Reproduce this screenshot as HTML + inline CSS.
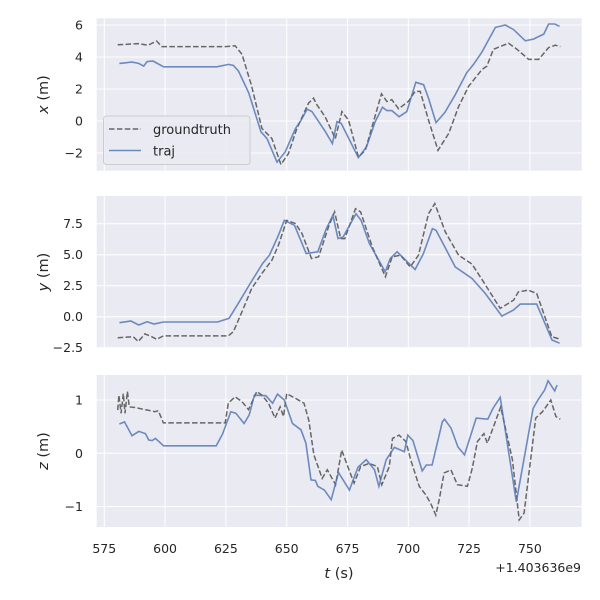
<!DOCTYPE html>
<html><head><meta charset="utf-8"><style>
body{margin:0;background:#fff;}
svg{display:block;font-family:"DejaVu Sans","Liberation Sans",sans-serif;}
</style></head><body>
<svg id="chart" width="600" height="600"></svg>
<script>
const gtT1=[580.5,589,593,596.5,598.6,624.7,628.8,631.6,635.6,639.8,643.9,647.6,650.7,654.2,659,661,662.4,665.8,670,672.7,675.4,679.5,682.3,689,691.2,693.2,696,700,702.8,704.9,708.3,712.2,716.6,720.7,724.8,730.3,732.3,735,741.2,744.7,749.5,753.6,757.7,760.5,762.5];
const gtX=[4.76,4.84,4.74,5.0,4.65,4.65,4.7,4.17,2.17,-0.46,-1.1,-2.72,-2.04,-0.46,1.12,1.43,1.01,0.27,-1.1,0.59,0.06,-2.25,-1.83,1.7,1.22,1.33,0.76,1.22,1.85,1.85,0.06,-1.83,-0.78,0.9,2.17,3.22,3.43,4.48,4.86,4.48,3.85,3.85,4.59,4.74,4.65];
const trT1=[581.2,586.4,589.1,591.2,592.6,595,599.4,621.3,626.1,628.1,630.2,634.4,639.4,641.9,646,649.4,653.6,655.6,658.4,660.4,665.9,668.8,670.7,672.4,679.5,682.8,686.4,689.4,691.2,693.2,696.2,699.4,703.1,706.3,708.3,711.4,715,719.3,724,726.8,730.3,735.8,739.9,743.3,748.1,751.5,753.6,755.7,757.7,760.2,762.2];
const trX=[3.6,3.68,3.6,3.43,3.71,3.75,3.39,3.39,3.54,3.47,3.12,1.75,-0.67,-1.1,-2.57,-1.94,-0.46,-0.04,0.74,0.59,-0.67,-1.41,-0.04,-0.15,-2.29,-1.62,-0.04,0.86,0.65,0.65,0.27,0.59,2.42,2.27,1.43,-0.1,0.53,1.64,3.01,3.54,4.32,5.85,6.0,5.71,5.01,5.12,5.28,5.43,6.06,6.06,5.92];
const gtT2=[580.5,586.9,589,591.7,594.5,596.5,599.3,626,628.1,631.6,635.6,639.8,643.9,646.6,650,653.6,656.3,660.2,663.1,667.2,669.7,672.2,673.9,678.3,680.4,685.2,690.6,693.4,696.8,700.8,704.2,708.3,710.9,715.2,720.7,726.2,730.9,737.8,743.3,745.3,749.4,752.8,759,762.5];
const gtY=[-1.69,-1.61,-2.0,-1.39,-1.61,-1.82,-1.55,-1.55,-1.21,0.4,2.28,3.49,4.56,5.76,7.77,7.51,6.7,4.69,4.83,7.24,8.45,6.3,6.3,8.71,8.45,5.63,3.22,4.83,4.96,4.02,4.96,8.31,9.12,6.84,4.96,4.24,2.82,0.67,1.34,2.01,2.14,1.88,-1.61,-1.82];
const trT2=[581.2,585.9,589.2,592.6,595.4,599.4,621.6,626.3,630.5,634.6,640.1,642.9,646.3,649,653.2,658,662.8,666.3,669,671.1,673.2,678.5,680.6,684,690.5,692.6,695.4,702.8,706.2,709.9,711.4,715,719.3,726.2,731.6,738.5,743.3,746,752.8,759.1,762.2];
const trY=[-0.48,-0.35,-0.67,-0.4,-0.59,-0.43,-0.43,-0.13,1.21,2.55,4.29,4.96,6.43,7.77,7.37,5.09,5.23,7.1,8.18,6.3,6.43,8.31,7.77,5.9,3.62,4.69,5.23,3.81,5.09,7.1,6.97,5.63,4.02,3.08,1.88,0.05,0.54,1.02,1.02,-1.88,-2.14];
const gtT3=[580.5,581,581.9,582.8,583.5,584.5,585.3,587.6,591.7,595.9,597.2,599.3,624.7,626,628.8,631.6,634.3,637.7,639.8,642.5,645.2,647.3,648.7,650,653.6,657.1,659.1,661.2,664.6,666.7,670.1,672.6,675.6,677.7,680.4,683.9,687.3,689.1,692.2,693.5,696.2,699,701,704.5,707.2,709.2,711.3,712.7,714.7,717.5,720.2,724.3,726.3,728.4,731.1,732.5,735.3,738,742.8,745.6,747.6,752.4,755.2,758.6,760.7,762.5];
const gtZ=[0.81,1.09,0.75,1.12,0.75,1.16,0.87,0.86,0.82,0.78,0.8,0.57,0.57,0.94,1.06,0.97,0.82,1.16,1.09,0.94,0.66,0.87,0.69,1.12,1.03,0.94,0.62,-0.03,-0.47,-0.31,-0.59,0.06,-0.31,-0.56,-0.25,-0.19,-0.25,-0.59,-0.25,0.28,0.34,0.22,-0.12,-0.62,-0.78,-0.94,-1.16,-0.87,-0.37,-0.31,-0.59,-0.62,-0.28,0.22,0.37,0.19,0.53,0.87,-0.12,-1.25,-1.12,0.66,0.78,1.0,0.69,0.64];
const trT3=[581.2,583.3,586.4,589.2,591.9,593.3,594.7,596,599.4,621,623.6,627,629.1,632.5,634.6,636.7,641.4,644.2,646.2,649,652.4,655.9,657.9,660,661.8,662.8,665.5,668.3,671.3,675.8,679.3,682.7,686.1,687.9,690.9,694.3,698.4,699.8,701.9,705.7,707.4,709.8,714,714.9,717.6,720.4,723.1,727.9,732.7,734.8,737.8,744.4,751.3,753.3,756.1,757.5,760.2,761.2];
const trZ=[0.55,0.59,0.33,0.41,0.37,0.25,0.24,0.28,0.14,0.14,0.36,0.78,0.75,0.56,0.72,1.09,1.08,0.94,1.11,1.0,0.56,0.44,0.19,-0.5,-0.51,-0.62,-0.69,-0.87,-0.36,-0.69,-0.26,-0.12,-0.31,-0.62,-0.12,0.11,0.03,0.34,0.24,-0.33,-0.22,-0.22,0.59,0.64,0.47,0.12,-0.03,0.66,0.64,0.84,1.05,-0.91,0.84,1.0,1.19,1.36,1.17,1.28];
const xTicks=[575,600,625,650,675,700,725,750];
const yTicks1=[-2,0,2,4,6];
const yTicks2=[-2.5,0,2.5,5,7.5];
const yTicksLbl2=["−2.5","0.0","2.5","5.0","7.5"];
const yTicks3=[-1,0,1];

const NS="http://www.w3.org/2000/svg";
const svg=document.getElementById('chart');
function mk(tag,attrs,parent){const e=document.createElementNS(NS,tag);for(const k in attrs)e.setAttribute(k,attrs[k]);(parent||svg).appendChild(e);return e;}
const L=96.7,R=581.7;
function xs(t){return 104.3+(t-575)*2.432;}
const panels=[
 {top:18.3,bot:170.7,y0:121,k:16,ticks:yTicks1,lbls:yTicks1.map(v=>v<0?"−"+(-v):""+v),name:"x",gt:[gtT1,gtX],tr:[trT1,trX]},
 {top:196,bot:348,y0:316.7,k:12.4,ticks:yTicks2,lbls:yTicksLbl2,name:"y",gt:[gtT2,gtY],tr:[trT2,trY]},
 {top:375,bot:527,y0:453.3,k:53.3,ticks:yTicks3,lbls:yTicks3.map(v=>v<0?"−"+(-v):""+v),name:"z",gt:[gtT3,gtZ],tr:[trT3,trZ]}
];
panels.forEach((p,i)=>{
 const g=mk('g',{});
 
 
 const bg=mk('rect',{x:L,y:p.top,width:R-L,height:p.bot-p.top,fill:'#EAEAF2'},g);
 
 
 const ys=v=>p.y0-v*p.k;
 xTicks.forEach(t=>{const l=mk('line',{x1:xs(t),x2:xs(t),y1:p.top,y2:p.bot,stroke:'#fff','stroke-width':1},g);
  
  });
 p.ticks.forEach((v,j)=>{const y=ys(v);
  const l=mk('line',{x1:L,x2:R,y1:y,y2:y,stroke:'#fff','stroke-width':1},g);
  
  
  const tx=mk('text',{x:83,y:y+4.5,'text-anchor':'end','font-size':12.5,fill:'#262626'},g);tx.textContent=p.lbls[j];
  
  });
 const clipId='c'+i;
 const cp=mk('clipPath',{id:clipId},g);mk('rect',{x:L,y:p.top,width:R-L,height:p.bot-p.top},cp);
 const path=(T,V)=>T.map((t,j)=>(j?'L':'M')+xs(t).toFixed(1)+','+ys(V[j]).toFixed(1)).join('');
 const gl=mk('path',{d:path(p.gt[0],p.gt[1]),fill:'none',stroke:'#666','stroke-width':1.5,'stroke-dasharray':'5.5,2.4','clip-path':'url(#'+clipId+')'},g);
 
 
 const tl=mk('path',{d:path(p.tr[0],p.tr[1]),fill:'none',stroke:'#4C72B0','stroke-opacity':0.8,'stroke-width':1.6,'clip-path':'url(#'+clipId+')'},g);
 
 
 const yl=mk('text',{transform:'translate(48,'+((p.top+p.bot)/2)+') rotate(-90)','text-anchor':'middle','font-size':14.5,fill:'#262626'},g);
 yl.innerHTML='<tspan font-style="italic">'+p.name+'</tspan> (m)';
 
 
});
xTicks.forEach(t=>{const tx=mk('text',{x:xs(t),y:553,'text-anchor':'middle','font-size':12.5,fill:'#262626'});tx.textContent=t;
 
 });
const xl=mk('text',{x:339,y:578,'text-anchor':'middle','font-size':14.5,fill:'#262626'});
xl.innerHTML='<tspan font-style="italic">t</tspan> (s)';


const off=mk('text',{x:581,y:572,'text-anchor':'end','font-size':12.5,fill:'#262626'});off.textContent='+1.403636e9';


const lg=mk('g',{});


mk('rect',{x:103.5,y:116,width:146.5,height:48.5,rx:3,fill:'#EAEAF2','fill-opacity':0.8,stroke:'#cccccc','stroke-width':1},lg);
mk('line',{x1:109,x2:141,y1:129,y2:129,stroke:'#666','stroke-width':1.5,'stroke-dasharray':'5.5,2.4'},lg);
mk('line',{x1:109,x2:141,y1:150.5,y2:150.5,stroke:'#4C72B0','stroke-opacity':0.8,'stroke-width':1.6},lg);
const e1=mk('text',{x:153,y:134,'font-size':13,fill:'#262626'},lg);e1.textContent='groundtruth';


const e2=mk('text',{x:153,y:155.5,'font-size':13,fill:'#262626'},lg);e2.textContent='traj';


</script>
</body></html>
